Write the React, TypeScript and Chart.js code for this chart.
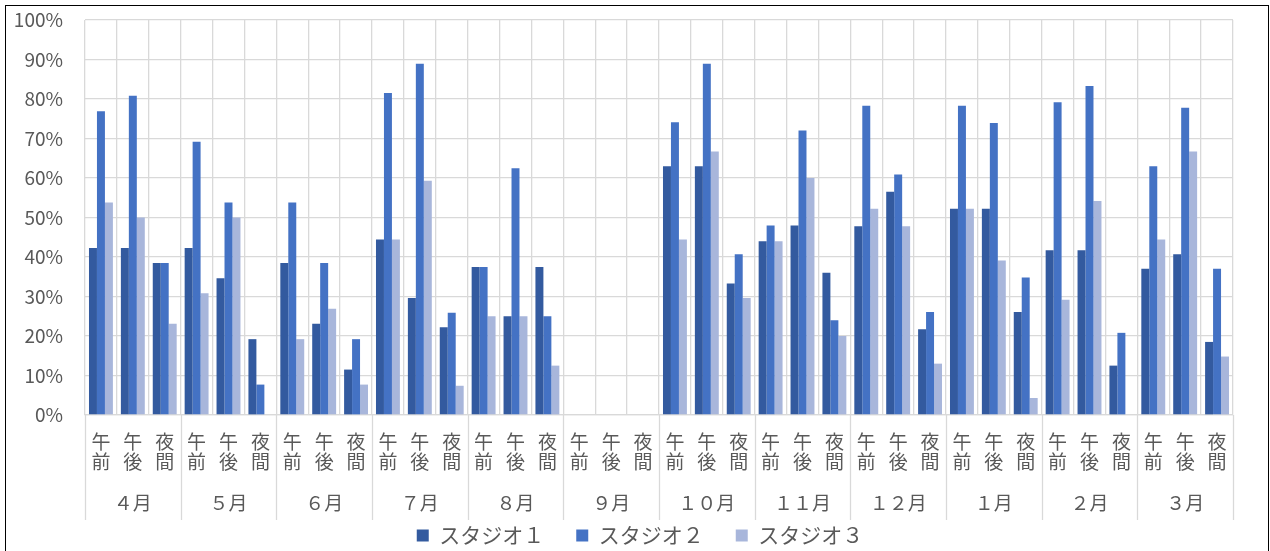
import React, { useEffect, useRef } from "react";
import { Chart, registerables } from "chart.js";

Chart.register(...registerables);

const months = ["４月", "５月", "６月", "７月", "８月", "９月", "１０月", "１１月", "１２月", "１月", "２月", "３月"];
const periods = [["午", "前"], ["午", "後"], ["夜", "間"]];
const seriesNames = ["スタジオ１", "スタジオ２", "スタジオ３"];
const seriesColors = ["#335A9F", "#4472C4", "#A8B6DB"];

// values in % : order per month = 午前, 午後, 夜間
const studio1 = [
  42.3, 42.3, 38.5,
  42.3, 34.6, 19.2,
  38.5, 23.1, 11.5,
  44.4, 29.6, 22.2,
  37.5, 25.0, 37.5,
  0, 0, 0,
  63.0, 63.0, 33.3,
  44.0, 48.0, 36.0,
  47.8, 56.5, 21.7,
  52.2, 52.2, 26.1,
  41.7, 41.7, 12.5,
  37.0, 40.7, 18.5,
];
const studio2 = [
  76.9, 80.8, 38.5,
  69.2, 53.8, 7.7,
  53.8, 38.5, 19.2,
  81.5, 88.9, 25.9,
  37.5, 62.5, 25.0,
  0, 0, 0,
  74.1, 88.9, 40.7,
  48.0, 72.0, 24.0,
  78.3, 60.9, 26.1,
  78.3, 73.9, 34.8,
  79.2, 83.3, 20.8,
  63.0, 77.8, 37.0,
];
const studio3 = [
  53.8, 50.0, 23.1,
  30.8, 50.0, 0,
  19.2, 26.9, 7.7,
  44.4, 59.3, 7.4,
  25.0, 25.0, 12.5,
  0, 0, 0,
  44.4, 66.7, 29.6,
  44.0, 60.0, 20.0,
  52.2, 47.8, 13.0,
  52.2, 39.1, 4.3,
  29.2, 54.2, 0,
  44.4, 66.7, 14.8,
];

const FONT = "'Noto Sans CJK JP', 'Noto Sans', sans-serif";
const TEXT = "#595959";
const GRID = "#D9D9D9";

const monthSeparators = {
  id: "monthSeparators",
  afterDraw(chart: any) {
    const xs = chart.scales.x;
    const n = xs.getLabels().length;
    const step = xs.getPixelForValue(1) - xs.getPixelForValue(0);
    const ctx = chart.ctx;
    ctx.save();
    ctx.strokeStyle = GRID;
    ctx.lineWidth = 1.3;
    for (let i = 0; i <= n; i += periods.length) {
      const x = Math.round(xs.getPixelForValue(i) - step / 2) + 0.5;
      ctx.beginPath();
      ctx.moveTo(x, chart.chartArea.bottom);
      ctx.lineTo(x, chart.chartArea.bottom + 105);
      ctx.stroke();
    }
    ctx.restore();
  },
};

export default function App() {
  const ref = useRef<HTMLCanvasElement>(null);

  useEffect(() => {
    if (!ref.current) return;
    const labels: string[][] = [];
    months.forEach(() => periods.forEach((p) => labels.push(p)));
    const data = [studio1, studio2, studio3];
    const chart = new Chart(ref.current, {
      type: "bar",
      data: {
        labels,
        datasets: seriesNames.map((name, i) => ({
          label: name,
          data: data[i],
          backgroundColor: seriesColors[i],
          borderWidth: 0,
          categoryPercentage: 0.75,
          barPercentage: 1.0,
        })),
      },
      options: {
        animation: false,
        responsive: false,
        layout: { padding: { top: 20, left: 10, right: 0, bottom: 0 } },
        plugins: {
          legend: {
            position: "bottom",
            maxHeight: 58,
            labels: {
              boxWidth: 12,
              boxHeight: 12,
              padding: 32,
              color: TEXT,
              font: { family: FONT, size: 21 },
            },
          },
          tooltip: { enabled: false },
        },
        scales: {
          x: {
            type: "category",
            weight: 0,
            offset: true,
            grid: { offset: true, color: GRID, lineWidth: 1.3, drawTicks: false },
            border: { color: GRID, width: 1.3 },
            ticks: {
              autoSkip: false,
              maxRotation: 0,
              minRotation: 0,
              padding: 17,
              color: TEXT,
              font: { family: FONT, size: 19, lineHeight: 1.05 },
            },
            afterFit: (s: any) => {
              s.height = 73;
            },
          },
          x2: {
            type: "category",
            position: "bottom",
            weight: 1,
            labels: months,
            offset: true,
            grid: { display: false },
            border: { display: false },
            ticks: {
              autoSkip: false,
              maxRotation: 0,
              minRotation: 0,
              mirror: true,
              padding: -26,
              color: TEXT,
              font: { family: FONT, size: 19 },
            },
            afterFit: (s: any) => {
              s.height = 5;
            },
          },
          y: {
            min: 0,
            max: 100,
            grid: { color: GRID, lineWidth: 1.3, drawTicks: true, tickLength: 15, tickColor: "rgba(0,0,0,0)" },
            border: { display: false },
            ticks: {
              stepSize: 10,
              padding: 7,
              color: TEXT,
              font: { family: FONT, size: 19 },
              callback: (v: any) => `${v}%`,
            },
            afterFit: (s: any) => {
              s.width = 75;
            },
          },
          yRight: {
            type: "linear",
            position: "right",
            display: true,
            grid: { display: false, drawTicks: false },
            border: { display: false },
            ticks: { display: false },
            afterFit: (s: any) => {
              s.width = 37;
            },
          },
        },
      },
      plugins: [monthSeparators],
    });
    return () => chart.destroy();
  }, []);

  return (
    <div style={{ position: "absolute", left: 0, top: 0, width: 1270, height: 551, overflow: "hidden", background: "#fff" }}>
      <div
        style={{
          position: "absolute",
          left: 5,
          top: 5,
          width: 1264,
          height: 600,
          borderLeft: "1.5px solid #000",
          borderTop: "1.5px solid #000",
          borderRight: "1.5px solid #000",
          boxSizing: "border-box",
        }}
      />
      <canvas ref={ref} width={1270} height={551} style={{ position: "absolute", left: 0, top: 0, width: 1270, height: 551 }} />
    </div>
  );
}
